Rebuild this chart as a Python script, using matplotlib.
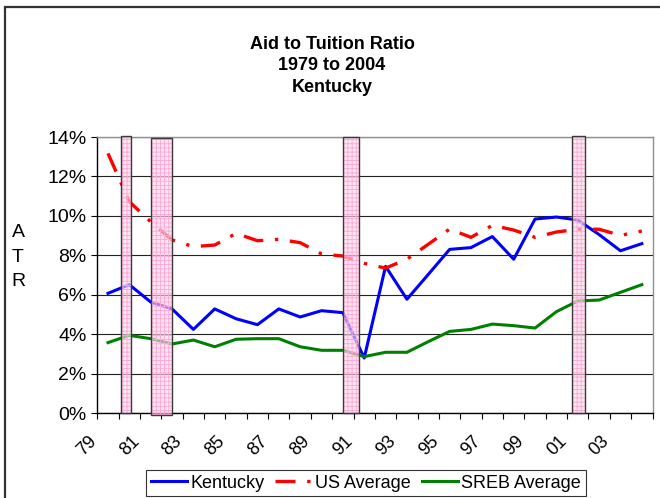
import matplotlib

matplotlib.use("Agg")
import matplotlib.pyplot as plt
from matplotlib.patches import Rectangle
from matplotlib.transforms import offset_copy, blended_transform_factory
import numpy as np

plt.rcParams["font.family"] = ["Liberation Sans", "DejaVu Sans"]
plt.rcParams["hatch.linewidth"] = 0.6

# data (ratios in %), one value per year 1979..2004
years = ["79", "80", "81", "82", "83", "84", "85", "86", "87", "88", "89", "90", "91",
         "92", "93", "94", "95", "96", "97", "98", "99", "00", "01", "02", "03", "04"]
kentucky = [6.07, 6.51, 5.63, 5.28, 4.24, 5.28, 4.78, 4.48, 5.28, 4.87, 5.19, 5.09, 2.79,
            7.44, 5.77, 7.03, 8.30, 8.39, 8.95, 7.80, 9.84, 9.94, 9.79, 9.05, 8.23, 8.59]
us_average = [13.17, 10.72, 9.70, 8.78, 8.44, 8.52, 9.11, 8.74, 8.81, 8.64, 8.07, 7.96, 7.59,
              7.35, 7.80, 8.56, 9.33, 8.91, 9.52, 9.28, 8.91, 9.18, 9.32, 9.32, 9.01, 9.23]
sreb_average = [3.57, 3.94, 3.77, 3.50, 3.70, 3.36, 3.74, 3.77, 3.77, 3.36, 3.18, 3.18, 2.86,
                3.08, 3.08, 3.62, 4.14, 4.24, 4.51, 4.43, 4.31, 5.14, 5.68, 5.73, 6.12, 6.51]

# recession bands, in category units (category i spans i..i+1)
rec_start = [1.11, 2.53, 11.50, 22.23]
rec_end = [1.59, 3.51, 12.26, 22.82]
rec_bottom = [0.0, -0.1, 0.0, 0.0]
rec_top = [14.07, 13.95, 14.0, 14.04]

x = np.arange(len(years)) + 0.5

fig = plt.figure(figsize=(6.6, 4.98), dpi=100)
ax = fig.add_axes([97.3 / 660, 1 - 413 / 498, (652.5 - 97.3) / 660, (413 - 137) / 498])

ax.plot(x, kentucky, color="#0000FF", lw=2.2, zorder=3, label="Kentucky")
ax.plot(x, us_average, color="#FF0000", lw=2.4, zorder=3, label="US Average",
        linestyle=(0, (6, 3.5, 1, 3.5)))
ax.plot(x, sreb_average, color="#008000", lw=2.2, zorder=3, label="SREB Average")

for s, e, b, t in zip(rec_start, rec_end, rec_bottom, rec_top):
    ax.add_patch(Rectangle((s, b), e - s, t - b, facecolor=(1.0, 0.84, 0.93, 0.62),
                           edgecolor="#FFA6D2", hatch="++++", lw=0, zorder=4, clip_on=False))
    ax.add_patch(Rectangle((s, b), e - s, t - b, fill=False, edgecolor="#3a3a3a",
                           lw=1.0, zorder=5, clip_on=False))

ax.set_xlim(0, len(years))
ax.set_ylim(0, 14)
ax.set_yticks(np.arange(0, 15, 2))
ax.set_yticklabels([f"{v}%" for v in range(0, 15, 2)], fontsize=14)
ax.yaxis.grid(True, color="#222222", lw=0.8)
ax.set_axisbelow(True)

ax.set_xticks(np.arange(0, len(years) + 1))
ax.set_xticklabels([])
ax.tick_params(axis="x", direction="out", length=4.5, width=0.8, color="black")
ax.tick_params(axis="y", direction="out", length=4.2, width=0.8, color="black", pad=3.5)

for side in ["top", "right"]:
    ax.spines[side].set_color("#909090")
    ax.spines[side].set_linewidth(1.0)
for side in ["left", "bottom"]:
    ax.spines[side].set_color("black")
    ax.spines[side].set_linewidth(1.0)

# rotated category labels, every second year
base = blended_transform_factory(ax.transData, ax.transAxes)
lbl_tr = offset_copy(base, fig=fig, x=-21 * 0.72, y=-33 * 0.72, units="points")
for i in range(0, len(years), 2):
    ax.text(x[i], 0, years[i], transform=lbl_tr, rotation=45, ha="center", va="center",
            fontsize=13)

fig.text(18 / 660, 1 - 257 / 498, "A\nT\nR", ha="center", va="center", fontsize=14,
         linespacing=1.55)

fig.text(332 / 660, 1 - 66 / 498, "Aid to Tuition Ratio\n1979 to 2004\nKentucky",
         ha="center", va="center", fontsize=13, fontweight="bold", linespacing=1.38)

leg = fig.legend(loc="center", bbox_to_anchor=(366 / 660, 1 - 483 / 498), ncol=3,
                 fontsize=13, frameon=True, fancybox=False, handlelength=2.0,
                 handletextpad=0.2, columnspacing=0.6, borderpad=0.25,
                 borderaxespad=0)
leg.get_frame().set_edgecolor("black")
leg.get_frame().set_linewidth(0.8)

# outer chart border
fig.add_artist(Rectangle((5 / 660, -0.1), 1.2, 1.1 - 7 / 498, transform=fig.transFigure,
                         fill=False, edgecolor="#333333", lw=1.6))

fig.savefig("out.png", dpi=100)
